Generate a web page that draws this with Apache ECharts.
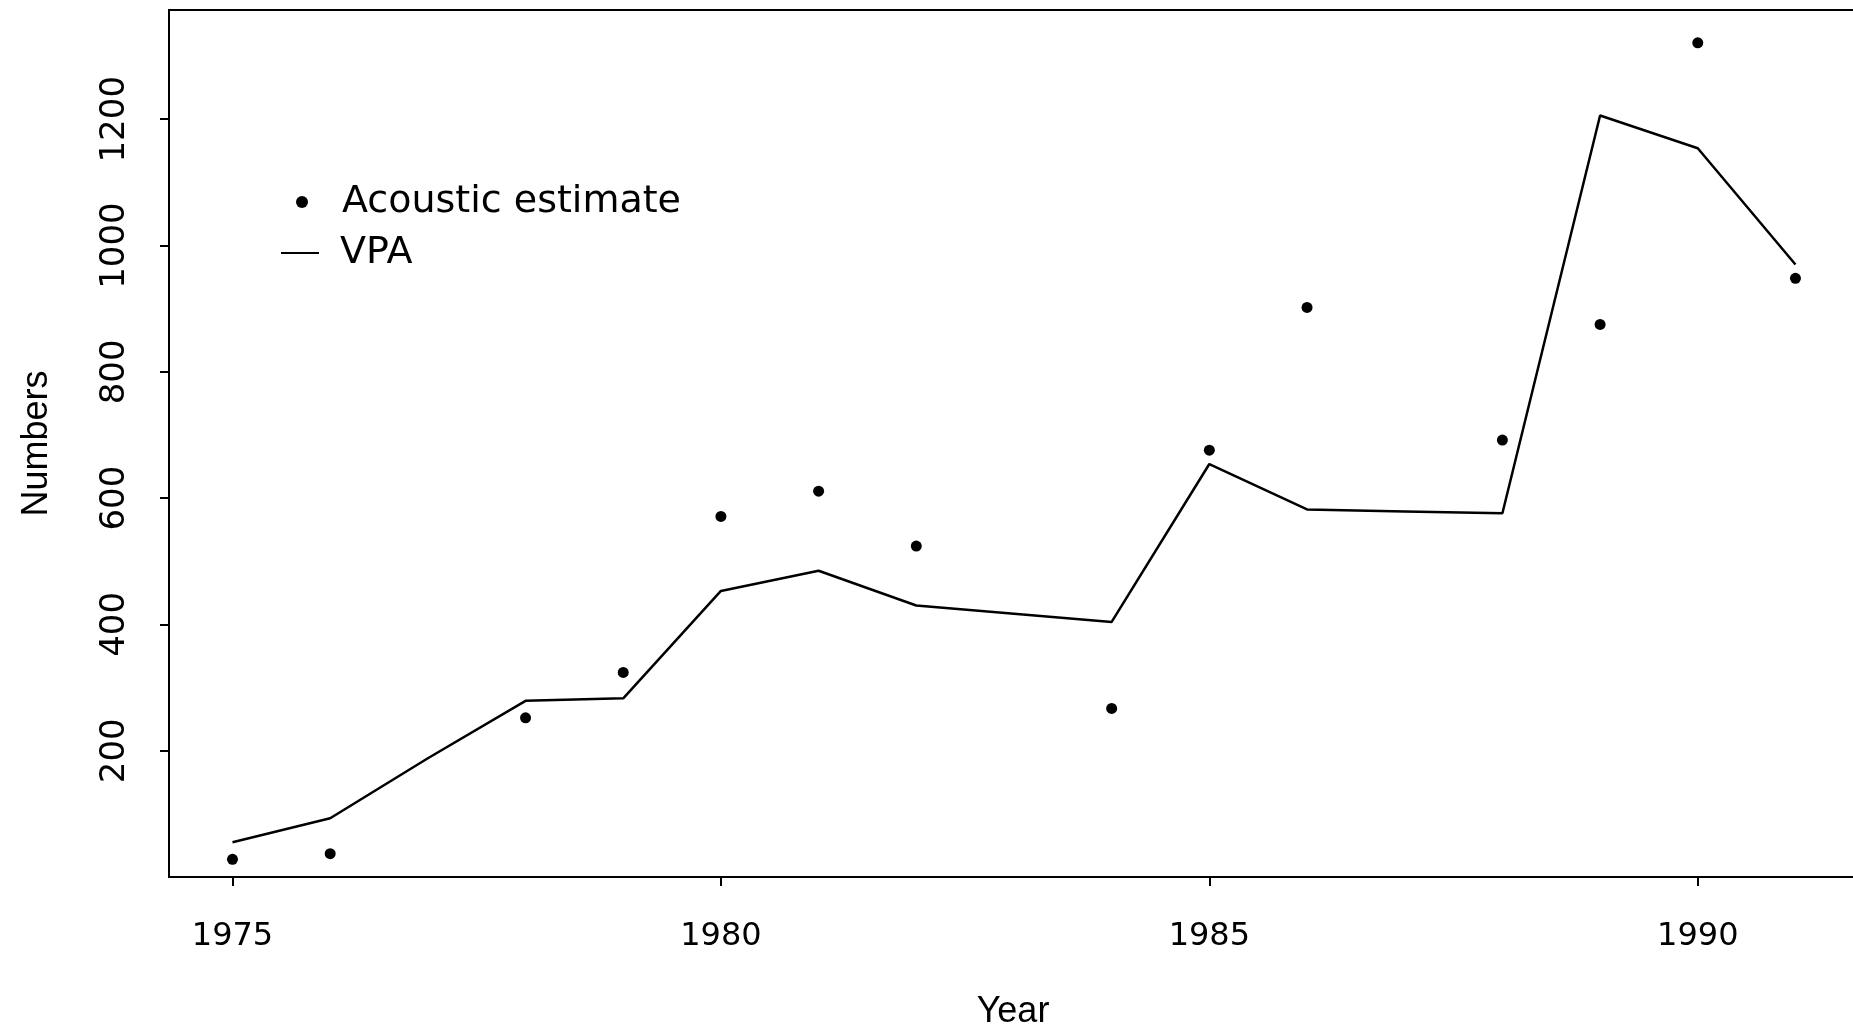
<!DOCTYPE html>
<html>
<head>
<meta charset="utf-8">
<script src="https://cdn.jsdelivr.net/npm/echarts@6/dist/echarts.min.js"></script>
<style>
  html, body { margin: 0; padding: 0; background: #fff; }
  #chart { width: 1853px; height: 1032px; }
</style>
</head>
<body>
<div id="chart"></div>
<script>
// ---- data ----
const acousticYears  = [1975, 1976, 1978, 1979, 1980, 1981, 1982, 1984, 1985, 1986, 1988, 1989, 1990, 1991];
const acousticValues = [28, 37, 252, 324, 571, 611, 524, 267, 676, 902, 692, 875, 1321, 948];

const vpaYears  = [1975, 1976, 1977, 1978, 1979, 1980, 1981, 1982, 1983, 1984, 1985, 1986, 1987, 1988, 1989, 1990, 1991];
const vpaValues = [55, 93, 188, 279, 283, 453, 485, 430, 417, 404, 654, 582, 579, 576, 1206, 1154, 970];

const xTicks = [1975, 1980, 1985, 1990];
const yTicks = [200, 400, 600, 800, 1000, 1200];

const seriesNames = ['Acoustic estimate', 'VPA'];

// ---- build ----
const acousticData = acousticYears.map((y, i) => [y, acousticValues[i]]);
const vpaData = vpaYears.map((y, i) => [y, vpaValues[i]]);

const ink = '#000';
const legendText = {
  fontFamily: 'DejaVu Sans', fontSize: 38, color: ink,
  lineHeight: 46, padding: [0, 0, 0, 16]
};
const chart = echarts.init(document.getElementById('chart'));
chart.setOption({
  backgroundColor: '#fff',
  animation: false,
  grid: {
    left: 169, right: -4, top: 10, bottom: 155,
    containLabel: false,
    outerBoundsMode: 'none',
    show: true, borderColor: ink, borderWidth: 2, backgroundColor: 'transparent'
  },
  legend: [
    {
      orient: 'vertical', left: 296, top: 179, padding: 0,
      itemWidth: 38, itemHeight: 12, selectedMode: false,
      textStyle: legendText,
      data: [{ name: seriesNames[0], icon: 'circle' }]
    },
    {
      orient: 'vertical', left: 281, top: 230, padding: 0,
      itemWidth: 38, itemHeight: 2, selectedMode: false,
      textStyle: legendText,
      data: [{ name: seriesNames[1], icon: 'rect' }]
    }
  ],
  xAxis: {
    type: 'value',
    min: 1974.35, max: 1991.63,
    name: 'Year',
    nameLocation: 'middle',
    nameGap: 117,
    nameTextStyle: { fontFamily: 'Liberation Sans', fontSize: 36, color: ink },
    axisLine: { show: true, onZero: false, lineStyle: { color: ink, width: 2 } },
    axisTick: { show: true, length: 9, inside: false, customValues: xTicks, lineStyle: { color: ink, width: 2 } },
    axisLabel: {
      customValues: xTicks, margin: 44,
      fontFamily: 'DejaVu Sans', fontSize: 32, color: ink,
      formatter: v => String(v)
    },
    splitLine: { show: false }
  },
  yAxis: {
    type: 'value',
    min: 0, max: 1373,
    name: 'Numbers',
    nameLocation: 'middle',
    nameGap: 114,
    nameTextStyle: { fontFamily: 'Liberation Sans', fontSize: 36, color: ink },
    axisLine: { show: true, onZero: false, lineStyle: { color: ink, width: 2 } },
    axisTick: { show: true, length: 9, inside: false, customValues: yTicks, lineStyle: { color: ink, width: 2 } },
    axisLabel: {
      customValues: yTicks, rotate: 90, margin: 37,
      fontFamily: 'DejaVu Sans', fontSize: 34, color: ink,
      formatter: v => String(v)
    },
    splitLine: { show: false }
  },
  series: [
    {
      name: seriesNames[0],
      type: 'scatter',
      data: acousticData,
      symbol: 'circle',
      symbolSize: 11,
      itemStyle: { color: ink, opacity: 1 },
      z: 3
    },
    {
      name: seriesNames[1],
      type: 'line',
      data: vpaData,
      showSymbol: false,
      symbol: 'none',
      lineStyle: { color: ink, width: 2.5 },
      itemStyle: { color: ink },
      z: 2
    }
  ]
});
</script>
</body>
</html>
